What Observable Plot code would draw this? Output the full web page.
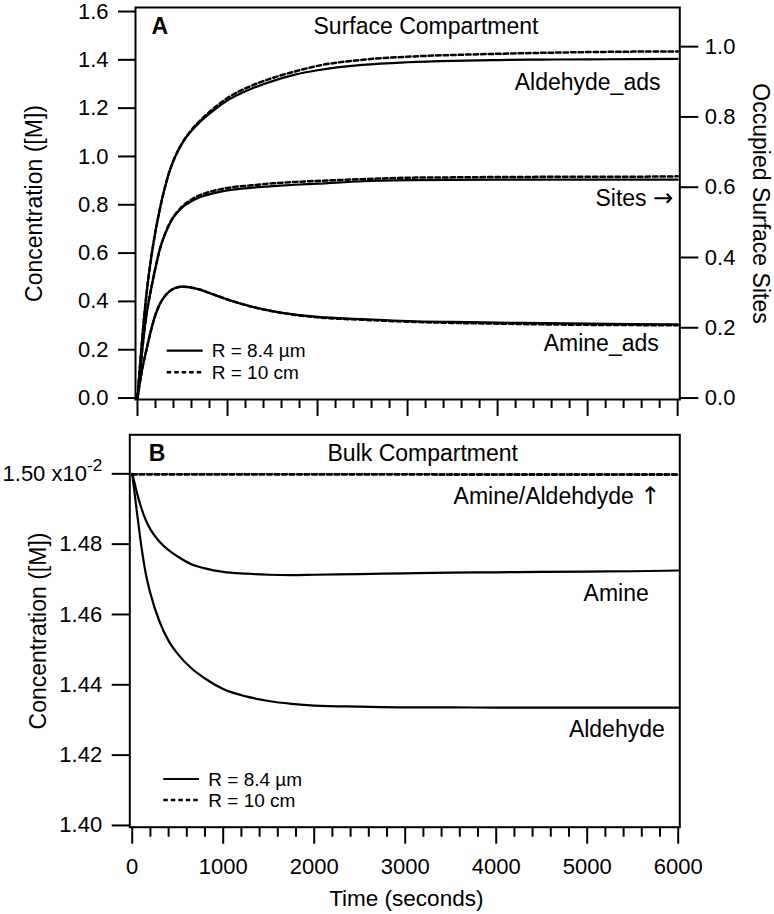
<!DOCTYPE html>
<html><head><meta charset="utf-8">
<script src="https://cdn.jsdelivr.net/npm/d3@7"></script>
<script src="https://cdn.jsdelivr.net/npm/@observablehq/plot@0.6"></script>
<style>
body{margin:0;background:#fff;}
#wrap{position:relative;width:774px;height:914px;overflow:hidden;background:#fff;}
#wrap svg{position:absolute;left:0;}
</style></head><body><div id="wrap"></div>
<script>
// ---------- Panel A: Surface compartment ----------
const timeA = [0, 25, 50, 100, 150, 200, 250, 300, 350, 400, 450, 500, 600, 700, 850, 1000, 1250, 1500, 1750, 2000, 2500, 3000, 3500, 4000, 4500, 5000, 5500, 6000];
// concentration [M] (left axis)
const aldehydeAdsSmall = [0, 0.12, 0.235, 0.43, 0.575, 0.69, 0.785, 0.865, 0.932, 0.983, 1.023, 1.056, 1.106, 1.145, 1.192, 1.232, 1.278, 1.312, 1.339, 1.357, 1.379, 1.390, 1.396, 1.399, 1.401, 1.402, 1.403, 1.404];
const aldehydeAdsLarge = [0, 0.12, 0.235, 0.43, 0.575, 0.69, 0.785, 0.865, 0.932, 0.983, 1.024, 1.058, 1.110, 1.150, 1.200, 1.242, 1.290, 1.325, 1.352, 1.375, 1.400, 1.413, 1.420, 1.425, 1.429, 1.432, 1.434, 1.435];
const amineAdsSmall = [0, 0.06, 0.115, 0.20, 0.28, 0.345, 0.39, 0.42, 0.44, 0.452, 0.459, 0.461, 0.457, 0.448, 0.428, 0.408, 0.380, 0.360, 0.345, 0.336, 0.327, 0.319, 0.315, 0.312, 0.310, 0.308, 0.306, 0.305];
const amineAdsLarge = [0, 0.06, 0.115, 0.20, 0.28, 0.345, 0.39, 0.42, 0.44, 0.452, 0.459, 0.461, 0.457, 0.448, 0.428, 0.408, 0.380, 0.359, 0.344, 0.334, 0.324, 0.316, 0.311, 0.308, 0.305, 0.303, 0.302, 0.301];
// occupied surface sites (right axis)
const sitesSmall = [0, 0.065, 0.131, 0.237, 0.309, 0.371, 0.425, 0.463, 0.492, 0.514, 0.530, 0.543, 0.560, 0.572, 0.583, 0.591, 0.598, 0.603, 0.607, 0.610, 0.617, 0.620, 0.621, 0.6215, 0.6215, 0.6215, 0.6215, 0.6215];
const sitesLarge = [0, 0.065, 0.131, 0.237, 0.309, 0.371, 0.425, 0.463, 0.493, 0.516, 0.532, 0.546, 0.565, 0.578, 0.590, 0.598, 0.605, 0.611, 0.615, 0.618, 0.623, 0.627, 0.628, 0.629, 0.6295, 0.630, 0.630, 0.631];

// ---------- Panel B: Bulk compartment (x10^-2 M) ----------
const timeB = [0, 25, 50, 100, 150, 200, 300, 400, 500, 650, 800, 1000, 1250, 1500, 1750, 2000, 2500, 3000, 3500, 4000, 4500, 5000, 5500, 6000];
const amineBulkSmall = [1.500, 1.4975, 1.4948, 1.4903, 1.4868, 1.4842, 1.4807, 1.4783, 1.4765, 1.4743, 1.4731, 1.4721, 1.4716, 1.4713, 1.4712, 1.4713, 1.4715, 1.4717, 1.4719, 1.4720, 1.4721, 1.4722, 1.4723, 1.4725];
const aldehydeBulkSmall = [1.500, 1.4947, 1.4895, 1.4795, 1.4715, 1.4660, 1.4580, 1.4525, 1.4488, 1.4447, 1.4418, 1.4388, 1.4367, 1.4354, 1.4346, 1.4341, 1.4338, 1.4336, 1.4336, 1.4335, 1.4335, 1.4335, 1.4335, 1.4335];
const timeBLarge = [0, 6000];
const amineBulkLarge = [1.4999, 1.4998];
const aldehydeBulkLarge = [1.4999, 1.4998];

// ---------- ticks and labels ----------
const xMajor = [0, 1000, 2000, 3000, 4000, 5000, 6000];
const xMinor = [200, 400, 600, 800, 1200, 1400, 1600, 1800, 2200, 2400, 2600, 2800, 3200, 3400, 3600, 3800, 4200, 4400, 4600, 4800, 5200, 5400, 5600, 5800];
const yTicksA = [0, 0.2, 0.4, 0.6, 0.8, 1.0, 1.2, 1.4, 1.6];
const yTicksSites = [0, 0.2, 0.4, 0.6, 0.8, 1.0];
const yTicksB = [1.40, 1.42, 1.44, 1.46, 1.48, 1.50];
const yTickLabelsB = ["1.40", "1.42", "1.44", "1.46", "1.48", "1.50 x10-2"];
const legendLabels = ["R = 8.4 µm", "R = 10 cm"];

const K = 1.6 / 1.1; // left-axis units per right-axis unit
const FONT = "'Liberation Sans', Arial, Helvetica, sans-serif";
const DASH = "4.5,3";

const toRows = (ts, vs, f = v => v) => ts.map((t, i) => ({t, v: f(vs[i])}));

function legendMark(x0, x1, x2, y1, y2) {
  return () => {
    const g = d3.create("svg:g").attr("font-family", FONT).attr("font-size", 19).attr("text-anchor", "start");
    g.append("line").attr("x1", x0).attr("x2", x1).attr("y1", y1).attr("y2", y1)
      .attr("stroke", "black").attr("stroke-width", 2.2);
    g.append("line").attr("x1", x0).attr("x2", x1).attr("y1", y2).attr("y2", y2)
      .attr("stroke", "black").attr("stroke-width", 2.4).attr("stroke-dasharray", DASH);
    g.append("text").attr("x", x2).attr("y", y1 + 6.5).text(legendLabels[0]);
    g.append("text").attr("x", x2).attr("y", y2 + 6.5).text(legendLabels[1]);
    return g.node();
  };
}

const lineOpts = {x: "t", y: "v", stroke: "black", strokeWidth: 2.2, curve: "monotone-x"};
const dashOpts = {...lineOpts, strokeWidth: 2.5, strokeDasharray: DASH};
const wrap = document.getElementById("wrap");

// ---------- Panel A ----------
const plotA = Plot.plot({
  width: 774, height: 430,
  marginLeft: 135, marginRight: 94.7, marginTop: 7, marginBottom: 31,
  style: {fontFamily: FONT, fontSize: "22px", color: "black", background: "transparent", overflow: "visible"},
  x: {domain: [-22, 6024]},
  y: {domain: [-0.006, 1.6166]},
  marks: [
    Plot.frame({strokeWidth: 2}),
    Plot.axisY({anchor: "left", ticks: yTicksA, tickSize: 17, tickPadding: 10, strokeWidth: 2, fontSize: 22, tickFormat: d3.format(".1f"), label: null}),
    Plot.axisY({anchor: "right", ticks: yTicksSites.map(v => v * K), tickSize: 18, tickPadding: 7, strokeWidth: 2, fontSize: 22, tickFormat: d => d3.format(".1f")(d / K), label: null}),
    Plot.axisX({ticks: xMajor, tickSize: 17, strokeWidth: 2, tickFormat: () => "", label: null}),
    Plot.axisX({ticks: xMinor, tickSize: 9, strokeWidth: 2, tickFormat: () => "", label: null}),
    Plot.line(toRows(timeA, aldehydeAdsSmall), lineOpts),
    Plot.line(toRows(timeA, aldehydeAdsLarge), dashOpts),
    Plot.line(toRows(timeA, sitesSmall, v => v * K), lineOpts),
    Plot.line(toRows(timeA, sitesLarge, v => v * K), dashOpts),
    Plot.line(toRows(timeA, amineAdsSmall), lineOpts),
    Plot.line(toRows(timeA, amineAdsLarge), dashOpts),
    Plot.text(["A"], {text: d => d, frameAnchor: "top-left", dx: 16, dy: 26.3, textAnchor: "start", lineAnchor: "bottom", fontSize: 23, fontWeight: "bold"}),
    Plot.text(["Surface Compartment"], {text: d => d, frameAnchor: "top-left", dx: 178, dy: 26.3, textAnchor: "start", lineAnchor: "bottom", fontSize: 23}),
    Plot.text(["Aldehyde_ads"], {text: d => d, frameAnchor: "top-right", dx: -19.3, dy: 82.5, textAnchor: "end", lineAnchor: "bottom", fontSize: 23}),
    Plot.text(["Sites →"], {text: d => d, frameAnchor: "top-right", dx: -6.6, dy: 198, textAnchor: "end", lineAnchor: "bottom", fontSize: 23}),
    Plot.text(["Amine_ads"], {text: d => d, frameAnchor: "top-right", dx: -21, dy: 343.7, textAnchor: "end", lineAnchor: "bottom", fontSize: 23}),
    Plot.text(["Concentration ([M])"], {text: d => d, frameAnchor: "left", dx: -101, rotate: -90, textAnchor: "middle", lineAnchor: "middle", fontSize: 23}),
    Plot.text(["Occupied Surface Sites"], {text: d => d, frameAnchor: "right", dx: 81, rotate: 90, textAnchor: "middle", lineAnchor: "middle", fontSize: 23}),
    legendMark(166.7, 202.7, 211.7, 350.7, 372.3)
  ]
});
plotA.style.top = "0px";
wrap.appendChild(plotA);

// ---------- Panel B ----------
const plotB = Plot.plot({
  width: 774, height: 494,
  marginLeft: 129.3, marginRight: 94.7, marginTop: 14.3, marginBottom: 87.3,
  style: {fontFamily: FONT, fontSize: "22px", color: "black", background: "transparent", overflow: "visible"},
  x: {domain: [-26.4, 6017.6]},
  y: {domain: [1.3995, 1.5111]},
  marks: [
    Plot.frame({strokeWidth: 2}),
    Plot.axisY({anchor: "left", ticks: yTicksB, tickSize: 17.6, tickPadding: 10, strokeWidth: 2, fontSize: 22, tickFormat: d => yTickLabelsB[yTicksB.findIndex(v => Math.abs(v - d) < 1e-9)], label: null}),
    Plot.axisX({ticks: xMajor, tickSize: 17, tickPadding: 14, strokeWidth: 2, fontSize: 22, tickFormat: d3.format("d"), label: null}),
    Plot.axisX({ticks: xMinor, tickSize: 10, strokeWidth: 2, tickFormat: () => "", label: null}),
    Plot.line(toRows(timeB, amineBulkSmall), lineOpts),
    Plot.line(toRows(timeB, aldehydeBulkSmall), lineOpts),
    Plot.line(toRows(timeBLarge, amineBulkLarge), dashOpts),
    Plot.line(toRows(timeBLarge, aldehydeBulkLarge), dashOpts),
    Plot.text(["B"], {text: d => d, frameAnchor: "top-left", dx: 19, dy: 25.7, textAnchor: "start", lineAnchor: "bottom", fontSize: 23, fontWeight: "bold"}),
    Plot.text(["Bulk Compartment"], {text: d => d, frameAnchor: "top-left", dx: 197.7, dy: 25.7, textAnchor: "start", lineAnchor: "bottom", fontSize: 23}),
    Plot.text(["Amine/Aldehdyde ↑"], {text: d => d, frameAnchor: "top-right", dx: -19.3, dy: 69, textAnchor: "end", lineAnchor: "bottom", fontSize: 23}),
    Plot.text(["Amine"], {text: d => d, frameAnchor: "top-right", dx: -31, dy: 166.4, textAnchor: "end", lineAnchor: "bottom", fontSize: 23}),
    Plot.text(["Aldehyde"], {text: d => d, frameAnchor: "top-right", dx: -15, dy: 302.4, textAnchor: "end", lineAnchor: "bottom", fontSize: 23}),
    Plot.text(["Concentration ([M])"], {text: d => d, frameAnchor: "left", dx: -91, rotate: -90, textAnchor: "middle", lineAnchor: "middle", fontSize: 23}),
    Plot.text(["Time (seconds)"], {text: d => d, frameAnchor: "bottom", dx: 1.5, dy: 78.3, textAnchor: "middle", lineAnchor: "bottom", fontSize: 22.5}),
    legendMark(163.3, 199, 208.3, 359, 380)
  ]
});
plotB.style.top = "420px";
wrap.appendChild(plotB);

// superscript exponent on the top tick label of panel B; arrows in a font with full-size arrows
d3.selectAll([plotA, plotB]).selectAll("text").each(function() {
  const s = this.textContent;
  const sel = d3.select(this);
  if (s === yTickLabelsB[5]) {
    sel.text(null);
    sel.append("tspan").text("1.50 x10");
    sel.append("tspan").attr("dy", "-0.55em").attr("font-size", "0.78em").text("-2");
  } else if (/[→↑]$/.test(s) && this.childElementCount === 0) {
    sel.text(null);
    sel.append("tspan").text(s.slice(0, -1));
    sel.append("tspan").attr("font-family", "'DejaVu Sans'").attr("font-size", "1.05em").text(s.slice(-1));
  }
});
</script></body></html>
